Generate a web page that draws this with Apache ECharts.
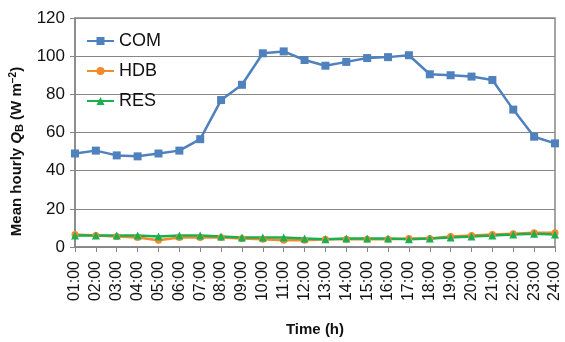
<!DOCTYPE html>
<html><head><meta charset="utf-8">
<script src="https://cdn.jsdelivr.net/npm/echarts@6/dist/echarts.min.js"></script>
<style>html,body{margin:0;padding:0;background:#fff}#c{width:565px;height:342px}</style>
</head><body><div id="c"></div>
<script>
const hours = ['01:00','02:00','03:00','04:00','05:00','06:00','07:00','08:00','09:00','10:00','11:00','12:00','13:00','14:00','15:00','16:00','17:00','18:00','19:00','20:00','21:00','22:00','23:00','24:00'];
const com = [49, 50.5, 48, 47.5, 49, 50.5, 56.5, 77, 85, 101.5, 102.5, 98, 95, 97, 99, 99.5, 100.5, 90.5, 90, 89.3, 87.5, 72, 57.8, 54.3];
const hdb = [6.5, 6, 5.5, 5, 3.5, 5, 5, 5, 4.5, 4, 3.5, 3.5, 4, 4, 4, 4, 4.5, 4.5, 5.5, 6, 6.5, 7, 7.5, 7.5];
const res = [6, 6, 6, 6, 5.5, 6, 6, 5.5, 5, 5, 5, 4.5, 4, 4.5, 4.5, 4.5, 4, 4.5, 5, 5.5, 6, 6.5, 7, 6.5];
const yTicks = [0, 20, 40, 60, 80, 100, 120];

const chart = echarts.init(document.getElementById('c'));
const font = 'Liberation Sans, Arial, sans-serif';
chart.setOption({
  animation: false,
  grid: {left: 75, right: 10, top: 18, bottom: 95, show: true, borderColor: '#868686', borderWidth: 1.5,
    outerBoundsMode: 'none', containLabel: false},
  legend: {
    orient: 'vertical', left: 81, top: 27, itemGap: 12, itemWidth: 27, itemHeight: 10,
    textStyle: {fontFamily: font, fontSize: 18, color: '#111'},
    data: ['COM', 'HDB', 'RES']
  },
  xAxis: {
    type: 'category', data: hours, boundaryGap: false,
    axisLine: {lineStyle: {color: '#868686', width: 1.5}},
    axisTick: {show: true, length: 5, alignWithLabel: true, lineStyle: {color: '#868686'}},
    axisLabel: {rotate: 90, interval: 0, fontFamily: font, fontSize: 16, color: '#111', margin: 14},
    name: 'Time (h)', nameLocation: 'middle', nameGap: 75,
    nameTextStyle: {fontFamily: font, fontSize: 15, fontWeight: 'bold', color: '#111'}
  },
  yAxis: {
    type: 'value', min: 0, max: 120, interval: 20,
    axisLine: {show: true, lineStyle: {color: '#868686', width: 1.5}},
    axisTick: {show: true, length: 5, lineStyle: {color: '#868686'}},
    splitLine: {lineStyle: {color: '#868686', width: 1}},
    axisLabel: {fontFamily: font, fontSize: 17, color: '#111', margin: 10,
      formatter: v => yTicks.includes(v) ? String(v) : ''},
    name: '{a|Mean hourly }{q|Q}{s|B}{a| (W m}{sup|−2}{a|)}',
    nameLocation: 'middle', nameGap: 49, nameRotate: 90,
    nameTextStyle: {
      padding: [0, 0, 0, -38],
      rich: {
        a: {fontFamily: font, fontSize: 15, fontWeight: 'bold', color: '#111'},
        q: {fontFamily: font, fontSize: 15, fontWeight: 'bold', fontStyle: 'italic', color: '#111'},
        s: {fontFamily: font, fontSize: 11, fontWeight: 'bold', color: '#111', verticalAlign: 'bottom', padding: [6, 0, 0, 0]},
        sup: {fontFamily: font, fontSize: 10, fontWeight: 'bold', color: '#111', verticalAlign: 'top', padding: [0, 0, 6, 0]}
      }
    }
  },
  series: [
    {name: 'COM', type: 'line', data: com, symbol: 'rect', symbolSize: 8,
      lineStyle: {color: '#4F81BD', width: 2.5}, itemStyle: {color: '#4F81BD'}},
    {name: 'HDB', type: 'line', data: hdb, symbol: 'circle', symbolSize: 7,
      lineStyle: {color: '#F38A2E', width: 2.5}, itemStyle: {color: '#F38A2E'}},
    {name: 'RES', type: 'line', data: res, symbol: 'triangle', symbolSize: 8,
      lineStyle: {color: '#1DAE4E', width: 2.5}, itemStyle: {color: '#1DAE4E'}}
  ]
});
</script></body></html>
